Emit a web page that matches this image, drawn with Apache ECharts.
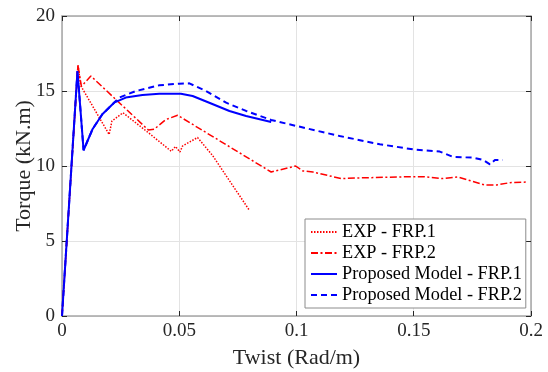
<!DOCTYPE html>
<html>
<head>
<meta charset="utf-8">
<script src="https://cdn.jsdelivr.net/npm/echarts@6/dist/echarts.min.js"></script>
<style>html,body{margin:0;padding:0;background:#fff}#c{width:548px;height:372px}</style>
</head>
<body>
<div id="c"></div>
<script>
var seriesNames = ['EXP - FRP.1', 'EXP - FRP.2', 'Proposed Model - FRP.1', 'Proposed Model - FRP.2'];
var xTicks = [0, 0.05, 0.1, 0.15, 0.2];
var yTicks = [0, 5, 10, 15, 20];

var expFrp1X = [0, 0.0068, 0.008, 0.0201, 0.0213, 0.026, 0.037, 0.0466, 0.0484, 0.0503, 0.0514, 0.0578, 0.0642, 0.0799];
var expFrp1Y = [0, 16.75, 15.35, 12.1, 13.0, 13.55, 12.2, 10.98, 11.3, 10.93, 11.33, 11.9, 10.7, 7.05];

var expFrp2X = [0, 0.0068, 0.0083, 0.0123, 0.0368, 0.0393, 0.0443, 0.0493, 0.0892, 0.0996, 0.1027, 0.107, 0.1191, 0.1255, 0.1497, 0.154, 0.1625, 0.1689, 0.1803, 0.1853, 0.191, 0.1982];
var expFrp2Y = [0, 16.7, 15.3, 16.0, 12.4, 12.45, 13.1, 13.38, 9.6, 10.0, 9.67, 9.6, 9.16, 9.2, 9.29, 9.29, 9.16, 9.27, 8.73, 8.73, 8.89, 8.93];

var modelFrp1X = [0, 0.0066, 0.0092, 0.013, 0.0172, 0.0222, 0.0272, 0.0343, 0.0415, 0.0507, 0.0557, 0.0628, 0.0714, 0.0785, 0.0892];
var modelFrp1Y = [0, 16.33, 11.05, 12.45, 13.45, 14.22, 14.56, 14.74, 14.82, 14.82, 14.67, 14.22, 13.67, 13.33, 12.93];

var modelFrp2X = [0, 0.0066, 0.0092, 0.013, 0.0172, 0.0222, 0.0244, 0.0315, 0.0415, 0.05, 0.0543, 0.0614, 0.07, 0.0785, 0.0892, 0.0999, 0.1184, 0.1355, 0.1497, 0.1611, 0.1668, 0.1753, 0.1796, 0.1825, 0.1846, 0.1879];
var modelFrp2Y = [0, 16.33, 11.05, 12.45, 13.45, 14.22, 14.56, 15.0, 15.38, 15.49, 15.51, 15.0, 14.22, 13.67, 13.07, 12.67, 12.0, 11.45, 11.11, 10.96, 10.6, 10.56, 10.4, 10.11, 10.4, 10.4];

function zip(xs, ys) { return xs.map(function (x, i) { return [x, ys[i]]; }); }

var FONT = 'Liberation Serif';
var chart = echarts.init(document.getElementById('c'), null, { renderer: 'canvas' });

var frameLine = { show: true, onZero: false, lineStyle: { color: '#a6a6a6', width: 1.5 } };
var tick = { show: true, inside: true, length: 5, lineStyle: { color: '#262626', width: 1 } };

chart.setOption({
  animation: false,
  backgroundColor: '#fff',
  textStyle: { fontFamily: FONT },
  grid: { left: 62, right: 17, top: 16, bottom: 56, containLabel: false, outerBoundsMode: 'none' },
  xAxis: [
    {
      type: 'value', min: xTicks[0], max: xTicks[xTicks.length - 1], interval: 0.05,
      name: 'Twist (Rad/m)', nameLocation: 'middle', nameGap: 31, nameMoveOverlap: false,
      nameTextStyle: { fontFamily: FONT, fontSize: 22, color: '#262626' },
      axisLine: frameLine, axisTick: tick,
      axisLabel: { fontFamily: FONT, fontSize: 19, color: '#262626', margin: 6,
        formatter: function (v) { return String(+v.toFixed(2)); } },
      splitLine: { show: true, lineStyle: { color: '#e3e3e3', width: 1 } }
    },
    {
      type: 'value', position: 'top', min: 0, max: 0.2, interval: 0.05,
      axisLine: frameLine, axisTick: tick, axisLabel: { show: false }, splitLine: { show: false }
    }
  ],
  yAxis: [
    {
      type: 'value', min: yTicks[0], max: yTicks[yTicks.length - 1], interval: 5,
      name: 'Torque (kN.m)', nameLocation: 'middle', nameGap: 27, nameMoveOverlap: false,
      nameTextStyle: { fontFamily: FONT, fontSize: 22, color: '#262626' },
      axisLine: frameLine, axisTick: tick,
      axisLabel: { fontFamily: FONT, fontSize: 19, color: '#262626', margin: 7 },
      splitLine: { show: true, lineStyle: { color: '#e3e3e3', width: 1 } }
    },
    {
      type: 'value', position: 'right', min: 0, max: 20, interval: 5,
      axisLine: frameLine, axisTick: tick, axisLabel: { show: false }, splitLine: { show: false }
    }
  ],
  legend: {
    orient: 'vertical', left: 305, top: 219,
    backgroundColor: '#fff', borderColor: '#8c8c8c', borderWidth: 1,
    padding: [4, 4, 4, 5], itemGap: 3, itemWidth: 26, itemHeight: 12,
    itemStyle: { opacity: 0 },
    textStyle: { fontFamily: FONT, fontSize: 18.3, color: '#000' },
    data: seriesNames
  },
  series: [
    { name: seriesNames[0], type: 'line', symbol: 'none', data: zip(expFrp1X, expFrp1Y),
      lineStyle: { color: '#ff0000', width: 1.5, type: [1.5, 1.5] }, itemStyle: { color: '#ff0000' } },
    { name: seriesNames[1], type: 'line', symbol: 'none', data: zip(expFrp2X, expFrp2Y),
      lineStyle: { color: '#ff0000', width: 1.5, type: [7, 2.5, 2, 2.5] }, itemStyle: { color: '#ff0000' } },
    { name: seriesNames[2], type: 'line', symbol: 'none', data: zip(modelFrp1X, modelFrp1Y),
      lineStyle: { color: '#0000ff', width: 2, type: 'solid' }, itemStyle: { color: '#0000ff' }, z: 3 },
    { name: seriesNames[3], type: 'line', symbol: 'none', data: zip(modelFrp2X, modelFrp2Y),
      lineStyle: { color: '#0000ff', width: 2, type: [6, 4] }, itemStyle: { color: '#0000ff' }, z: 2 }
  ]
});
</script>
</body>
</html>
